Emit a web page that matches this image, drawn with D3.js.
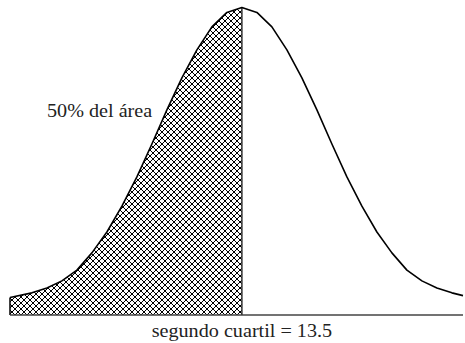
<!DOCTYPE html>
<html><head><meta charset="utf-8">
<script src="https://cdn.jsdelivr.net/npm/d3@7"></script>
<style>html,body{margin:0;padding:0;background:#fff;}svg{display:block;}</style>
</head><body>
<svg id="chart" width="465" height="343"></svg>
<script>
// Curve points (x in data units, y = relative density)
const xValues = [5.77, 6.5, 7.0, 7.5, 8.0, 8.5, 9.0, 9.5, 10.0, 10.5, 11.0, 11.5, 12.0, 12.5, 13.0, 13.5,
                 14.0, 14.5, 15.0, 15.5, 16.0, 16.5, 17.0, 17.5, 18.0, 18.5, 19.0, 19.5, 20.0, 20.5, 20.87];
const yValues = [0.0057, 0.0072, 0.0088, 0.0111, 0.0146, 0.0202, 0.0270, 0.0354, 0.0449, 0.0556, 0.0667, 0.0771, 0.0862, 0.0937, 0.0984, 0.1000,
                 0.0984, 0.0937, 0.0862, 0.0771, 0.0667, 0.0556, 0.0449, 0.0354, 0.0270, 0.0202, 0.0146, 0.0111, 0.0088, 0.0072, 0.0063];
const quartile = 13.5;
const areaLabel = "50% del área";
const axisLabel = "segundo cuartil = 13.5";

const svg = d3.select("#chart");
const x = d3.scaleLinear().domain([d3.min(xValues), d3.max(xValues)]).range([10, 463]);
const y = d3.scaleLinear().domain([0, 0.1]).range([315, 7.5]);
const pts = xValues.map((v, i) => ({x: v, y: yValues[i]}));

const defs = svg.append("defs");
const pat = defs.append("pattern").attr("id", "hatch").attr("patternUnits", "userSpaceOnUse")
  .attr("width", 6).attr("height", 6).attr("x", 0).attr("y", 0);
pat.append("rect").attr("width", 6).attr("height", 6).attr("fill", "#fff");
pat.append("path").attr("d", "M-1,-1 L7,7 M7,-1 L-1,7").attr("stroke", "#000").attr("stroke-width", 1.1)
  .attr("shape-rendering", "crispEdges");

const left = pts.filter(d => d.x <= quartile);
const area = d3.area().x(d => x(d.x)).y0(y(0)).y1(d => y(d.y));
svg.append("path").datum(left).attr("d", area).attr("fill", "url(#hatch)").attr("stroke", "none");

// left edge
svg.append("line").attr("x1", x(xValues[0])).attr("x2", x(xValues[0]))
  .attr("y1", y(0)).attr("y2", y(yValues[0])).attr("stroke", "#000").attr("stroke-width", 1.5);

// baseline
svg.append("line").attr("x1", x(d3.min(xValues))).attr("x2", x(d3.max(xValues)))
  .attr("y1", y(0)).attr("y2", y(0)).attr("stroke", "#444").attr("stroke-width", 1.5);

// quartile line
svg.append("line").attr("x1", x(quartile)).attr("x2", x(quartile))
  .attr("y1", y(0)).attr("y2", y(d3.max(yValues))).attr("stroke", "#333").attr("stroke-width", 1.5);

// curve
const line = d3.line().x(d => x(d.x)).y(d => y(d.y));
svg.append("path").datum(pts).attr("d", line).attr("fill", "none").attr("stroke", "#000")
  .attr("stroke-width", 1.6).attr("stroke-linejoin", "round");

const font = "Times New Roman, Liberation Serif, Tinos, DejaVu Serif, Noto Serif, serif";
svg.append("text").attr("font-family", font).attr("font-size", 18).attr("fill", "#222")
  .attr("transform", "translate(47,116.5) scale(1.12,1)").text(areaLabel);
svg.append("text").attr("font-family", font).attr("font-size", 18).attr("fill", "#222")
  .attr("transform", `translate(${x(quartile)},336.5) scale(1.12,1)`)
  .attr("text-anchor", "middle").text(axisLabel);
</script>
</body></html>
